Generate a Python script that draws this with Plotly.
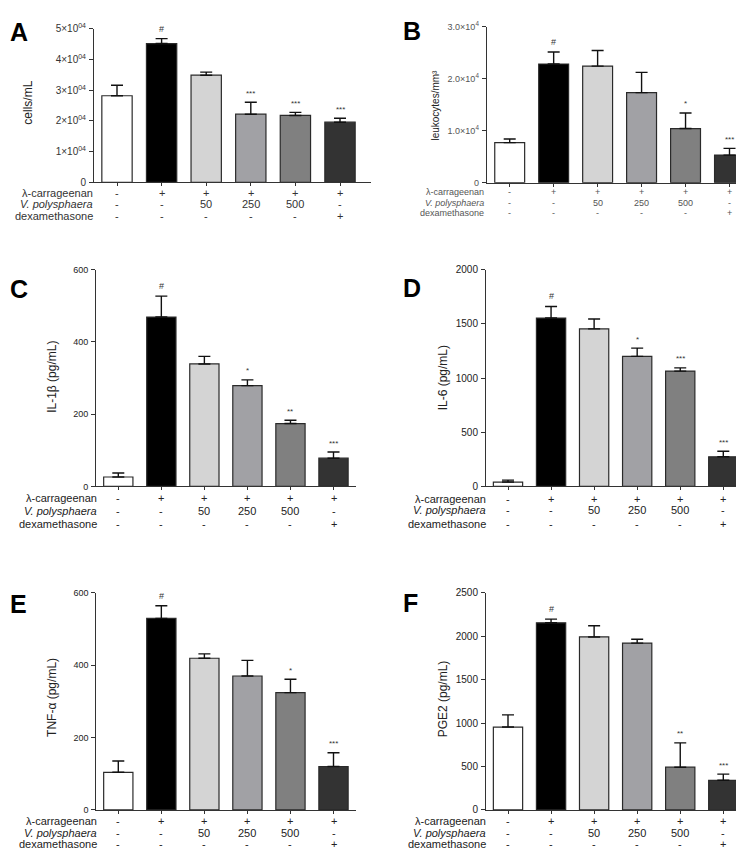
import plotly.graph_objects as go

W, H = 744, 849

# ---------------- data ----------------
groups = ["control", "carrageenan", "Vp50", "Vp250", "Vp500", "dexa"]
bar_colors = ["#ffffff", "#000000", "#d4d4d4", "#a1a1a5", "#808080", "#333333"]

carrageenan_row = ["-", "+", "+", "+", "+", "+"]
vp_row = ["-", "-", "50", "250", "500", "-"]
dexa_row = ["-", "-", "-", "-", "-", "+"]
row_labels = ["\u03bb-carrageenan", "<i>V. polysphaera</i>", "dexamethasone"]

A_vals = [2.82e4, 4.52e4, 3.49e4, 2.22e4, 2.18e4, 1.96e4]
A_err = [0.34e4, 0.16e4, 0.10e4, 0.39e4, 0.10e4, 0.13e4]
A_sig = ["", "#", "", "***", "***", "***"]

B_vals = [0.77e4, 2.28e4, 2.24e4, 1.73e4, 1.04e4, 0.53e4]
B_err = [0.07e4, 0.23e4, 0.30e4, 0.39e4, 0.30e4, 0.13e4]
B_sig = ["", "#", "", "", "*", "***"]

C_vals = [26, 469, 339, 279, 174, 78]
C_err = [11, 58, 21, 16, 9, 17]
C_sig = ["", "#", "", "*", "**", "***"]

D_vals = [40, 1554, 1454, 1200, 1064, 273]
D_err = [18, 107, 91, 76, 30, 51]
D_sig = ["", "#", "", "*", "***", "***"]

E_vals = [104, 529, 419, 370, 324, 120]
E_err = [31, 35, 12, 43, 37, 38]
E_sig = ["", "#", "", "", "*", "***"]

F_vals = [954, 2154, 1991, 1920, 492, 341]
F_err = [140, 42, 129, 45, 280, 71]
F_sig = ["", "#", "", "", "**", "***"]

A_ticks = [0, 1e4, 2e4, 3e4, 4e4, 5e4]
A_ticktext = ["0"] + ["%d\u00d710<sup>04</sup>" % i for i in range(1, 6)]
B_ticks = [0, 1e4, 2e4, 3e4]
B_ticktext = ["0", "1.0\u00d710<sup>4</sup>", "2.0\u00d710<sup>4</sup>", "3.0\u00d710<sup>4</sup>"]
C_ticks = [0, 200, 400, 600]
D_ticks = [0, 500, 1000, 1500, 2000]
E_ticks = [0, 200, 400, 600]
F_ticks = [0, 500, 1000, 1500, 2000, 2500]

# ---------------- layout geometry (pixels) ----------------
panels = [
    dict(letter="A", vals=A_vals, err=A_err, sig=A_sig, title="cells/mL",
         ticks=A_ticks, ticktext=A_ticktext, ymax=5e4,
         axl=86, axr=363, c0=109, dx=44.6, y0=170, ytop=14,
         rows=[181, 192, 204], lab_r=87, tx=28, ty=89, lx=0, ly=1,
         fs_tick=10, fs_title=12, fs_tab=11, tcol="#333333"),
    dict(letter="B", vals=B_vals, err=B_err, sig=B_sig, title="leukocytes/mm\u00b3",
         ticks=B_ticks, ticktext=B_ticktext, ymax=3e4,
         axl=478.7, axr=743, c0=501.7, dx=43.96, y0=170.3, ytop=11.7,
         rows=[180, 190.7, 201], lab_r=478, tx=436, ty=92, lx=393, ly=0,
         fs_tick=9, fs_title=10, fs_tab=9, tcol="#555555"),
    dict(letter="C", vals=C_vals, err=C_err, sig=C_sig, title="IL-1\u03b2 (pg/mL)",
         ticks=C_ticks, ticktext=None, ymax=600,
         axl=88, axr=347.7, c0=110.3, dx=43.04, y0=478.7, ytop=258.7,
         rows=[491, 503.7, 516.7], lab_r=90.7, tx=52, ty=367.5, lx=0, ly=262,
         fs_tick=9, fs_title=12, fs_tab=11, tcol="#222222"),
    dict(letter="D", vals=D_vals, err=D_err, sig=D_sig, title="IL-6 (pg/mL)",
         ticks=D_ticks, ticktext=None, ymax=2000,
         axl=478, axr=738.7, c0=500, dx=43.06, y0=478.7, ytop=258.7,
         rows=[491.3, 502.7, 516.7], lab_r=480, tx=443, ty=369, lx=393, ly=261,
         fs_tick=10, fs_title=12, fs_tab=11, tcol="#222222"),
    dict(letter="E", vals=E_vals, err=E_err, sig=E_sig, title="TNF-\u03b1 (pg/mL)",
         ticks=E_ticks, ticktext=None, ymax=600,
         axl=88.3, axr=348, c0=110.3, dx=43.04, y0=807.3, ytop=586.7,
         rows=[819, 831, 842], lab_r=90.7, tx=52.5, ty=693, lx=0, ly=582,
         fs_tick=9, fs_title=12, fs_tab=11, tcol="#222222"),
    dict(letter="F", vals=F_vals, err=F_err, sig=F_sig, title="PGE2 (pg/mL)",
         ticks=F_ticks, ticktext=None, ymax=2500,
         axl=478, axr=738.7, c0=500, dx=43.06, y0=807.3, ytop=586.7,
         rows=[819, 831, 842], lab_r=480, tx=443, ty=695, lx=393, ly=581,
         fs_tick=10, fs_title=12, fs_tab=11, tcol="#222222"),
]

FONT = "Liberation Sans, Arial, sans-serif"
TITLE_SHIFT = -8  # compensates rotated-annotation anchoring

def px(x):
    return x / W

def py(y):
    return 1 - y / H

fig = go.Figure()
annotations = []
layout_axes = {}
xs = list(range(len(groups)))

for i, p in enumerate(panels):
    n = i + 1
    xa = "x" if n == 1 else "x%d" % n
    ya = "y" if n == 1 else "y%d" % n
    xkey = "xaxis" if n == 1 else "xaxis%d" % n
    ykey = "yaxis" if n == 1 else "yaxis%d" % n
    TXT = p["tcol"]

    fig.add_trace(go.Bar(
        x=xs, y=p["vals"], xaxis=xa, yaxis=ya, width=0.68,
        marker=dict(color=bar_colors, line=dict(color="#2a2a2a", width=1.2)),
        error_y=dict(type="data", symmetric=False, array=p["err"],
                     arrayminus=[0] * len(xs), color="#111111",
                     thickness=1.4, width=6),
        showlegend=False, hoverinfo="skip",
    ))

    xlo = (p["axl"] - p["c0"]) / p["dx"]
    xhi = (p["axr"] - p["c0"]) / p["dx"]
    layout_axes[xkey] = dict(
        domain=[px(p["axl"]), px(p["axr"])], range=[xlo, xhi],
        anchor=ya, showline=True, linecolor="#333333", linewidth=1,
        ticks="outside", ticklen=3, tickcolor="#333333", tickwidth=1,
        tickvals=xs, showticklabels=False, showgrid=False, zeroline=False,
        fixedrange=True,
    )
    yax = dict(
        domain=[py(p["y0"]), py(p["ytop"])], range=[0, p["ymax"]],
        anchor=xa, showline=True, linecolor="#333333", linewidth=1,
        ticks="outside", ticklen=4, tickcolor="#333333", tickwidth=1,
        tickvals=p["ticks"], showgrid=False, zeroline=False,
        tickfont=dict(family=FONT, size=p["fs_tick"], color=TXT),
        ticklabelstandoff=1,
    )
    if p["ticktext"] is not None:
        yax["ticktext"] = p["ticktext"]
    layout_axes[ykey] = yax

    # y-axis title
    annotations.append(dict(
        text=p["title"], xref="paper", yref="paper",
        x=px(p["tx"] + TITLE_SHIFT), y=py(p["ty"]),
        xanchor="center", yanchor="middle", textangle=-90, showarrow=False,
        font=dict(family=FONT, size=p["fs_title"], color="#222222"),
    ))
    # panel letter
    annotations.append(dict(
        text="<b>%s</b>" % p["letter"], xref="paper", yref="paper",
        x=px(p["lx"]), y=py(p["ly"]), xanchor="left", yanchor="top",
        showarrow=False, font=dict(family=FONT, size=25, color="#000000"),
    ))
    # significance markers
    for j, s in enumerate(p["sig"]):
        if s:
            annotations.append(dict(
                text=s, xref=xa, yref=ya, x=xs[j], y=p["vals"][j] + p["err"][j],
                xanchor="center", yanchor="middle", yshift=10 if s == "#" else 9,
                showarrow=False,
                font=dict(family=FONT, size=9 if s == "#" else 8, color="#333333"),
            ))
    # condition table
    table_rows = [carrageenan_row, vp_row, dexa_row]
    for r, (lab, row) in enumerate(zip(row_labels, table_rows)):
        ypos = py(p["rows"][r])
        annotations.append(dict(
            text=lab, xref="paper", yref="paper", x=px(p["lab_r"]), y=ypos,
            xanchor="right", yanchor="middle", showarrow=False,
            font=dict(family=FONT, size=p["fs_tab"], color=TXT),
        ))
        for j, v in enumerate(row):
            annotations.append(dict(
                text=v, xref=xa, yref="paper", x=xs[j], y=ypos,
                xanchor="center", yanchor="middle", showarrow=False,
                font=dict(family=FONT, size=p["fs_tab"], color=TXT),
            ))

fig.update_layout(
    width=W, height=H, margin=dict(l=0, r=0, t=0, b=0),
    paper_bgcolor="white", plot_bgcolor="white",
    annotations=annotations, bargap=0.3, showlegend=False,
    font=dict(family=FONT, color="#222222"),
    **layout_axes,
)

fig.write_html("out.html")
